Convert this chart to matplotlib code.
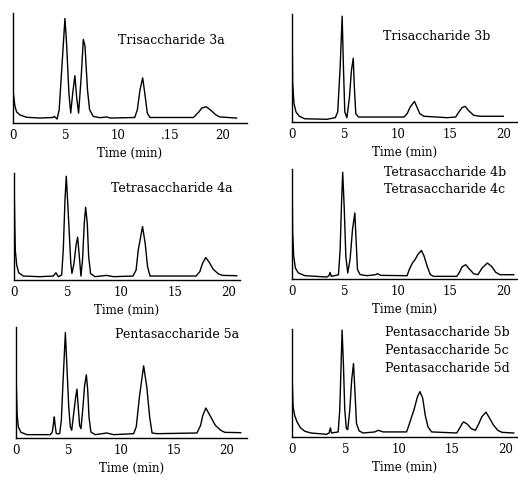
import matplotlib
matplotlib.use("Agg")
import matplotlib.pyplot as plt

# HPLC traces: retention time (min) and detector response (fraction of full scale)
tri3a_t = [0, 0.03, 0.19, 0.35, 0.67, 1.3, 2.6, 3.8, 3.94, 4.2, 4.4, 4.6, 4.95, 5.1, 5.33, 5.5, 5.7, 5.9,
           6.06, 6.25, 6.5, 6.7, 6.86, 7.1, 7.3, 7.65, 8.3, 8.9, 9.3, 11.6, 11.85, 12.1, 12.36, 12.6, 12.8,
           13.05, 17.2, 17.7, 18.0, 18.4, 18.8, 19.3, 19.7, 21.3]
tri3a_y = [1.0, 0.27, 0.15, 0.10, 0.073, 0.052, 0.045, 0.05, 0.06, 0.036, 0.12, 0.42, 0.95, 0.73, 0.27, 0.09,
           0.28, 0.43, 0.24, 0.09, 0.42, 0.76, 0.70, 0.30, 0.12, 0.06, 0.048, 0.055, 0.045, 0.05, 0.12, 0.30,
           0.41, 0.24, 0.09, 0.05, 0.05, 0.10, 0.136, 0.148, 0.12, 0.076, 0.055, 0.045]

tri3b_t = [0, 0.06, 0.19, 0.38, 0.7, 1.2, 3.3, 4.1, 4.33, 4.56, 4.75, 4.87, 5.0, 5.2, 5.44, 5.63, 5.8, 5.9,
           6.04, 6.3, 10.6, 10.9, 11.2, 11.6, 11.8, 12.1, 12.5, 14.7, 15.5, 15.8, 16.1, 16.4, 16.7, 17.2,
           17.8, 20.0]
tri3b_y = [1.0, 0.36, 0.17, 0.093, 0.053, 0.03, 0.025, 0.04, 0.093, 0.51, 0.98, 0.51, 0.093, 0.04, 0.23, 0.48,
           0.59, 0.33, 0.077, 0.046, 0.046, 0.077, 0.14, 0.19, 0.145, 0.077, 0.053, 0.04, 0.046, 0.093, 0.133,
           0.145, 0.108, 0.062, 0.053, 0.053]

tetra4a_t = [0, 0.06, 0.12, 0.25, 0.44, 0.87, 2.4, 3.67, 3.92, 4.14, 4.45, 4.6, 4.76, 4.88, 5.0, 5.13, 5.3,
             5.41, 5.6, 5.8, 5.94, 6.1, 6.25, 6.4, 6.56, 6.69, 6.84, 6.97, 7.15, 7.56, 8.65, 9.3, 11.1, 11.4,
             11.6, 12.0, 12.25, 12.47, 12.7, 17.0, 17.35, 17.6, 17.9, 18.2, 18.6, 19.1, 19.5, 20.8]
tetra4a_y = [1.0, 0.59, 0.28, 0.14, 0.068, 0.037, 0.031, 0.037, 0.068, 0.031, 0.047, 0.28, 0.75, 0.97, 0.75,
             0.50, 0.16, 0.062, 0.155, 0.33, 0.40, 0.22, 0.037, 0.19, 0.53, 0.68, 0.53, 0.22, 0.06, 0.031,
             0.043, 0.031, 0.037, 0.093, 0.28, 0.50, 0.34, 0.124, 0.037, 0.037, 0.078, 0.155, 0.21, 0.17,
             0.10, 0.056, 0.043, 0.04]

tetra4bc_t = [0, 0.06, 0.16, 0.32, 0.6, 1.23, 3.3, 3.5, 3.6, 3.73, 4.4, 4.56, 4.68, 4.8, 4.94, 5.1, 5.28,
              5.5, 5.73, 5.95, 6.08, 6.2, 6.45, 7.1, 7.9, 8.1, 8.4, 10.9, 11.1, 11.4, 11.65, 11.9, 12.25,
              12.5, 12.8, 13.1, 13.4, 15.6, 15.85, 16.1, 16.45, 16.8, 17.2, 17.6, 18.0, 18.5, 18.9, 19.3,
              19.7, 21.0]
tetra4bc_y = [1.0, 0.42, 0.21, 0.10, 0.055, 0.03, 0.018, 0.03, 0.06, 0.024, 0.039, 0.27, 0.66, 0.97, 0.66,
              0.20, 0.055, 0.18, 0.45, 0.60, 0.33, 0.085, 0.04, 0.03, 0.039, 0.048, 0.033, 0.03, 0.085, 0.145,
              0.176, 0.22, 0.26, 0.21, 0.115, 0.04, 0.024, 0.024, 0.06, 0.11, 0.13, 0.09, 0.048, 0.039, 0.10,
              0.145, 0.115, 0.06, 0.039, 0.039]

penta5a_t = [0, 0.03, 0.1, 0.22, 0.47, 1.04, 3.25, 3.44, 3.57, 3.63, 3.73, 3.82, 4.14, 4.3, 4.45, 4.68, 4.8,
             5.0, 5.15, 5.28, 5.47, 5.66, 5.78, 5.9, 6.03, 6.16, 6.35, 6.5, 6.67, 6.8, 6.92, 7.1, 7.5, 8.6,
             9.26, 11.15, 11.4, 11.7, 12.1, 12.4, 12.67, 12.9, 13.4, 17.15, 17.5, 17.7, 18.0, 18.4, 18.9,
             19.4, 19.8, 21.3]
penta5a_y = [1.0, 0.49, 0.22, 0.10, 0.051, 0.03, 0.03, 0.054, 0.144, 0.19, 0.10, 0.039, 0.039, 0.16, 0.49,
             0.95, 0.70, 0.28, 0.10, 0.07, 0.22, 0.37, 0.44, 0.28, 0.114, 0.084, 0.28, 0.47, 0.57, 0.43, 0.19,
             0.054, 0.03, 0.045, 0.03, 0.039, 0.10, 0.37, 0.65, 0.46, 0.19, 0.045, 0.039, 0.045, 0.114, 0.20,
             0.27, 0.20, 0.114, 0.07, 0.051, 0.048]

penta5bcd_t = [0, 0.03, 0.1, 0.25, 0.47, 0.78, 1.2, 1.8, 3.23, 3.48, 3.6, 3.7, 4.33, 4.48, 4.6, 4.7, 4.83,
               4.95, 5.1, 5.23, 5.42, 5.6, 5.77, 5.9, 6.05, 6.3, 6.68, 7.77, 8.1, 8.55, 10.75, 10.97, 11.2,
               11.44, 11.76, 12.0, 12.26, 12.5, 12.76, 13.1, 15.45, 15.7, 15.96, 16.1, 16.46, 16.8, 17.2,
               17.5, 17.8, 18.2, 18.5, 18.9, 19.3, 19.7, 20.8]
penta5bcd_y = [1.0, 0.50, 0.28, 0.20, 0.14, 0.087, 0.053, 0.037, 0.025, 0.037, 0.084, 0.037, 0.047, 0.25,
               0.65, 0.99, 0.65, 0.25, 0.078, 0.068, 0.25, 0.53, 0.68, 0.43, 0.124, 0.056, 0.037, 0.047, 0.062,
               0.047, 0.047, 0.11, 0.18, 0.25, 0.37, 0.42, 0.36, 0.20, 0.093, 0.047, 0.037, 0.078, 0.124, 0.14,
               0.118, 0.078, 0.062, 0.118, 0.186, 0.23, 0.18, 0.11, 0.062, 0.043, 0.037]

titles_tl = ["Trisaccharide 3a"]
titles_tr = ["Trisaccharide 3b"]
titles_ml = ["Tetrasaccharide 4a"]
titles_mr = ["Tetrasaccharide 4b", "Tetrasaccharide 4c"]
titles_bl = ["Pentasaccharide 5a"]
titles_br = ["Pentasaccharide 5b", "Pentasaccharide 5c", "Pentasaccharide 5d"]

tick_vals = [0, 5, 10, 15, 20]
tick_labels_first = ["0", "5", "10", ".15", "20"]
tick_labels = ["0", "5", "10", "15", "20"]
xlabel = "Time (min)"

W, H = 518, 480
fig = plt.figure(figsize=(W / 100, H / 100), dpi=100)
fig.patch.set_facecolor("white")
FONT = "DejaVu Serif"

# panel geometry in pixels: left, right, top, bottom, x-limit at the right edge
panels = [
    (tri3a_t, tri3a_y, 13, 247, 13, 123, 22.3, titles_tl, (171, 40), tick_labels_first),
    (tri3b_t, tri3b_y, 292, 518, 14, 122, 21.4, titles_tr, (437, 36), tick_labels),
    (tetra4a_t, tetra4a_y, 14, 240, 173, 280, 21.1, titles_ml, (172, 188), tick_labels),
    (tetra4bc_t, tetra4bc_y, 292, 518, 169, 279, 21.4, titles_mr, (445, 172), tick_labels),
    (penta5a_t, penta5a_y, 16, 247, 327, 438, 21.9, titles_bl, (177, 335), tick_labels),
    (penta5bcd_t, penta5bcd_y, 292, 518, 329, 437, 21.2, titles_br, (447, 333), tick_labels),
]

for t, y, l, r, top, bot, xmax, titles, (tx, ty), tl in panels:
    ax = fig.add_axes([l / W, 1 - bot / H, (r - l) / W, (bot - top) / H])
    ax.plot(t, y, color="black", lw=1.0, solid_joinstyle="round")
    ax.set_xlim(0, xmax)
    ax.set_ylim(0, 1.0)
    for side in ("top", "right"):
        ax.spines[side].set_visible(False)
    for side in ("left", "bottom"):
        ax.spines[side].set_linewidth(1.0)
    ax.set_yticks([])
    ax.set_xticks(tick_vals)
    ax.set_xticklabels(tl, fontsize=8.5, family=FONT)
    ax.tick_params(axis="x", length=0, pad=4)
    ax.set_xlabel(xlabel, fontsize=8.5, family=FONT, labelpad=4)
    ax.set_facecolor("none")
    for i, s in enumerate(titles):
        fig.text(tx / W, 1 - (ty + i * 17.5) / H, s, fontsize=9, family=FONT,
                 ha="center", va="center")

fig.savefig("out.png", dpi=100, facecolor="white")
